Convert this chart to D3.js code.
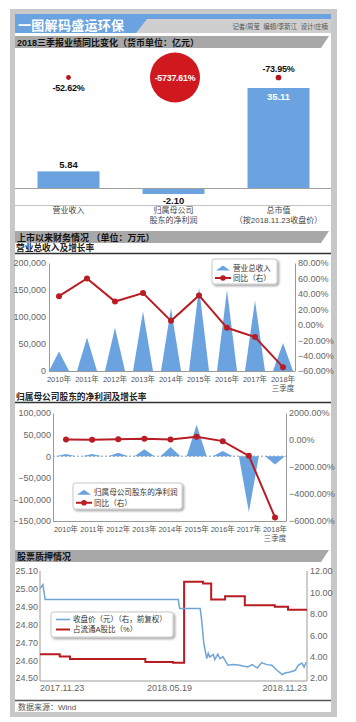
<!DOCTYPE html>
<html><head><meta charset="utf-8">
<script src="https://cdn.jsdelivr.net/npm/d3@7/dist/d3.min.js"></script>
<style>
body{margin:0;background:#fff;}
svg{display:block;}
text{font-family:"Liberation Sans",Arial,"Noto Sans CJK SC",sans-serif;}
</style></head><body>
<svg id="c" width="356" height="722"></svg>
<script>
// ---------- DATA ----------
const title = "一图解码盛运环保";
const credits = "记者/周莹  编辑/李新江  设计/庄楠";
const sec1Title = "2018三季报业绩同比变化（货币单位：亿元）";
const s1Line1 = ["营业收入", "归属母公司", "总市值"];
const s1Line2 = ["", "股东的净利润", "（按2018.11.23收盘价）"];
const s1Values = [5.84, -2.10, 35.11];
const s1Growth = [-52.62, -5737.61, -73.95];

const sec2Title = "上市以来财务情况 （单位：万元）";
const chart2Title = "营业总收入及增长率";
const chart3Title = "归属母公司股东的净利润及增长率";
const years = ["2010年","2011年","2012年","2013年","2014年","2015年","2016年","2017年","2018年"];
const lastYearNote = "三季度";
const revenue = [36000, 62000, 80000, 110000, 116000, 155000, 150000, 130000, 52000];
const revenueGrowth = [37, 60, 30, 41, 5, 38, -4, -16, -55];
const revLegend = ["营业总收入", "同比（右）"];
const rev2LeftTicks = [0, 50000, 100000, 150000, 200000];
const rev2RightTicks = [-60, -40, -20, 0, 20, 40, 60, 80];

const profit = [5000, 5000, 8000, 16000, 21500, 73000, 12000, -129000, -19000];
const profitGrowth = [35, 20, 60, 100, 34, 240, -84, -1175, -5737.61];
const profLegend = ["归属母公司股东的净利润", "同比（右）"];
const prof3LeftTicks = [-150000, -100000, -50000, 0, 50000, 100000];
const prof3RightTicks = [-6000, -4000, -2000, 0, 2000];

const sec4Title = "股票质押情况";
const priceDates = ["2017-11-23","2017-11-27","2017-11-30","2018-05-31","2018-06-02","2018-06-30","2018-07-02","2018-07-05","2018-07-09","2018-07-11","2018-07-13","2018-07-18","2018-07-20","2018-07-24","2018-07-27","2018-07-31","2018-08-07","2018-08-14","2018-08-23","2018-09-03","2018-09-09","2018-09-16","2018-09-22","2018-09-29","2018-10-06","2018-10-13","2018-10-20","2018-10-24","2018-10-31","2018-11-07","2018-11-11","2018-11-16","2018-11-19","2018-11-22"];
const priceValues = [10.36,10.73,9.33,9.33,8.49,8.49,7.39,5.21,3.81,4.30,3.95,4.20,3.72,4.22,3.80,4.00,3.19,3.25,3.19,3.03,3.25,2.93,3.44,3.25,3.19,2.72,2.32,2.47,2.56,2.72,3.19,3.40,3.03,3.50];
const pledgeDates = ["2017-11-23","2017-12-20","2018-01-03","2018-04-16","2018-05-24","2018-06-08","2018-07-04","2018-07-15","2018-08-03","2018-08-30","2018-10-10","2018-10-28","2018-11-23"];
const pledgeValues = [24.633,24.620,24.606,24.590,24.585,25.040,25.030,24.940,24.958,24.908,24.900,24.883,24.883];
const pledgeLeftTicks = [24.5, 24.6, 24.7, 24.8, 24.9, 25.0, 25.1];
const priceRightTicks = [2, 4, 6, 8, 10, 12];
const dateTickLabels = ["2017.11.23", "2018.05.19", "2018.11.23"];
const stockLegend = ["收盘价（元）（右，前复权）", "占流通A股比（%）"];
const source = "数据来源：Wind";

// ---------- DRAW ----------
const BLUE = "#6aa3e0", RED = "#b81d24", AX = "#9a9a9a", TK = "#666";
const svg = d3.select("#c");
const defs = svg.append("defs");
defs.append("filter").attr("id","sh").attr("x","-20%").attr("y","-30%").attr("width","150%").attr("height","180%")
  .append("feDropShadow").attr("dx",1.5).attr("dy",1.5).attr("stdDeviation",1.2).attr("flood-color","#000").attr("flood-opacity",0.4);

svg.append("rect").attr("x",10).attr("y",9).attr("width",327).attr("height",708).attr("fill","#c8c8c8");
svg.append("rect").attr("x",15).attr("y",14).attr("width",316).attr("height",698).attr("fill","#fff");

// header
svg.append("polygon").attr("points","15,14 331,14 331,33 15,33").attr("fill","#cfcfcf");
svg.append("polygon").attr("points","15,14 331,14 331,19 147,19 136,33 15,33").attr("fill",BLUE);
svg.append("text").attr("x",18).attr("y",30).attr("fill","#fff").attr("font-size",13).attr("font-weight","bold")
  .attr("letter-spacing",0.3).text(title);
svg.append("text").attr("x",328).attr("y",28.5).attr("text-anchor","end").attr("fill","#555").attr("font-size",6.4)
  .style("white-space","pre").text(credits);

function band(y, label){
  svg.append("polygon").attr("points",`15,${y} 329,${y} 321,${y+12} 15,${y+12}`).attr("fill","#a8a8a8");
  svg.append("text").attr("x",17).attr("y",y+10).attr("font-size",9).attr("font-weight","bold").attr("fill","#111")
    .style("white-space","pre").text(label);
}
function subTitle(y, label){
  svg.append("text").attr("x",16).attr("y",y).attr("font-size",8.7).attr("font-weight","bold").attr("fill","#222").text(label);
  svg.append("line").attr("x1",15).attr("x2",331).attr("y1",y+2.5).attr("y2",y+2.5).attr("stroke","#333").attr("stroke-width",1.3);
}

// ---- Section 1 ----
band(36, sec1Title);
const x1 = d3.scaleBand().domain(s1Line1).range([16,331]).paddingInner(0.41).paddingOuter(0.205);
const y1 = d3.scaleLinear().domain([0,35.11]).range([188,88]);
const r1 = d3.scaleSqrt().domain([0,5737.61]).range([0,25]);
const g1 = svg.append("g");
g1.selectAll("rect.b").data(s1Values).join("rect")
  .attr("x",(d,i)=>x1(s1Line1[i])).attr("width",x1.bandwidth())
  .attr("y",d=>y1(Math.max(0,d))).attr("height",d=>Math.abs(y1(d)-y1(0))).attr("fill",BLUE);
svg.append("line").attr("x1",15).attr("x2",331).attr("y1",188.5).attr("y2",188.5).attr("stroke","#a0a0a0");
svg.append("line").attr("x1",15).attr("x2",331).attr("y1",205.5).attr("y2",205.5).attr("stroke","#c4c4c4");
s1Values.forEach((v,i)=>{
  const cx = x1(s1Line1[i]) + x1.bandwidth()/2;
  let ty, fill="#111";
  if (v < 0) ty = y1(v) + 10;
  else if (y1(0)-y1(v) > 40) { ty = y1(v) + 12; fill = "#fff"; }
  else ty = y1(v) - 3;
  g1.append("text").attr("x",cx).attr("y",ty).attr("text-anchor","middle").attr("font-size",9.5)
    .attr("font-weight","bold").attr("fill",fill).text(v.toFixed(2));
  g1.append("text").attr("x",cx).attr("y",213).attr("text-anchor","middle").attr("font-size",8).attr("fill","#444").text(s1Line1[i]);
  if (s1Line2[i]) g1.append("text").attr("x",cx).attr("y",222.5).attr("text-anchor","middle").attr("font-size",8).attr("fill","#444").text(s1Line2[i]);
});
s1Growth.forEach((v,i)=>{
  const cx = x1(s1Line1[i]) + x1.bandwidth()/2 + (i===1?1.5:0);
  const cy = 77.5, r = r1(Math.abs(v));
  g1.append("circle").attr("cx",cx).attr("cy",cy).attr("r",r).attr("fill", r>10 ? "#d0191f" : "#b8141b");
  let ty, fill = "#111";
  if (r > 10) { ty = cy + 3.3; fill = "#fff"; }
  else if (i === 0) ty = cy + 13;
  else ty = cy - 5.5;
  g1.append("text").attr("x",cx).attr("y",ty).attr("text-anchor","middle").attr("font-size", r>10?8.8:9)
    .attr("font-weight","bold").attr("fill",fill).attr("letter-spacing",-0.2).text(v.toFixed(2)+"%");
});

// ---- Section 2 ----
band(231, sec2Title);
subTitle(251, chart2Title);

function comboChart(opt){
  const x = d3.scalePoint().domain(years).range(opt.xr);
  const yl = d3.scaleLinear().domain(opt.ld).range(opt.yr);
  const yr = d3.scaleLinear().domain(opt.rd).range(opt.yr);
  const g = svg.append("g");
  const hw = opt.hw;
  if (opt.zeroDash) g.append("line").attr("x1",opt.axL).attr("x2",opt.axR).attr("y1",yl(0)).attr("y2",yl(0))
      .attr("stroke","#999").attr("stroke-dasharray","2,2");
  g.selectAll("path.t").data(opt.bars).join("path")
    .attr("d",(d,i)=>{const cx=x(years[i]); return `M${cx-hw},${yl(0)}L${cx},${yl(d)}L${cx+hw},${yl(0)}Z`;})
    .attr("fill",BLUE);
  const axL = g.append("g").attr("transform",`translate(${opt.axL},0)`)
    .call(d3.axisLeft(yl).tickValues(opt.lt).tickSize(0).tickSizeOuter(0).tickPadding(opt.lp).tickFormat(d3.format(",")));
  const axR = g.append("g").attr("transform",`translate(${opt.axR},0)`)
    .call(d3.axisRight(yr).tickValues(opt.rt).tickSize(0).tickSizeOuter(0).tickPadding(3).tickFormat(d=>d3.format(".2f")(d)+"%"));
  [axL,axR].forEach(a=>{a.select(".domain").attr("stroke",AX);a.selectAll("text").attr("font-size",9).attr("fill",TK)
     .attr("font-family","Liberation Sans, Arial");});
  g.append("line").attr("x1",opt.axL).attr("x2",opt.axR).attr("y1",opt.yr[0]+0.5).attr("y2",opt.yr[0]+0.5).attr("stroke",AX);
  const line = d3.line().x((d,i)=>x(years[i])).y(d=>yr(d));
  g.append("path").attr("d",line(opt.line)).attr("fill","none").attr("stroke",RED).attr("stroke-width",2);
  g.selectAll("circle.m").data(opt.line).join("circle").attr("cx",(d,i)=>x(years[i])).attr("cy",d=>yr(d)).attr("r",3).attr("fill",RED);
  years.forEach(yv=>{
    g.append("text").attr("x",x(yv)).attr("y",opt.yr[0]+10.5).attr("text-anchor","middle").attr("font-size",7.5).attr("fill","#555").text(yv);
  });
  g.append("text").attr("x",x(years[years.length-1])).attr("y",opt.yr[0]+19.5).attr("text-anchor","middle").attr("font-size",7.5).attr("fill","#555").text(lastYearNote);
  const L = opt.leg;
  const lg = g.append("g").attr("transform",`translate(${L.x},${L.y})`);
  lg.append("rect").attr("width",L.w).attr("height",L.h).attr("rx",2.5).attr("fill","#fff").attr("stroke","#c8c8c8").attr("filter","url(#sh)");
  lg.append("path").attr("d",`M4,${L.h*0.36+2.5}L11,${L.h*0.36-2.5}L18,${L.h*0.36+2.5}Z`).attr("fill",BLUE);
  lg.append("text").attr("x",21).attr("y",L.h*0.36+3).attr("font-size",7.6).attr("fill","#333").text(L.labels[0]);
  lg.append("line").attr("x1",3).attr("x2",19).attr("y1",L.h*0.76).attr("y2",L.h*0.76).attr("stroke",RED).attr("stroke-width",2);
  lg.append("circle").attr("cx",11).attr("cy",L.h*0.76).attr("r",2.8).attr("fill",RED);
  lg.append("text").attr("x",21).attr("y",L.h*0.76+3).attr("font-size",7.6).attr("fill","#333").text(L.labels[1]);
}

comboChart({xr:[59,283], yr:[371,263], ld:[0,200000], rd:[-60,80], lt:rev2LeftTicks, rt:rev2RightTicks,
  axL:49, axR:295, lp:3, hw:10, bars:revenue, line:revenueGrowth, zeroDash:false,
  leg:{x:212,y:259,w:65,h:25,labels:revLegend}});

subTitle(400, chart3Title);
comboChart({xr:[66,275], yr:[521,413], ld:[-150000,100000], rd:[-6000,2000], lt:prof3LeftTicks, rt:prof3RightTicks,
  axL:53, axR:286, lp:2, hw:10, bars:profit, line:profitGrowth, zeroDash:true,
  leg:{x:73,y:483,w:109,h:26,labels:profLegend}});

// ---- Section 4 ----
band(550, sec4Title);
const parse = d3.timeParse("%Y-%m-%d");
const x4 = d3.scaleTime().domain([parse("2017-11-23"), parse("2018-11-23")]).range([40,307]);
const yl4 = d3.scaleLinear().domain([24.5,25.1]).range([678,571]);
const yr4 = d3.scaleLinear().domain([2,12]).range([678,571]);
const g4 = svg.append("g");
const a4l = g4.append("g").attr("transform","translate(40,0)")
  .call(d3.axisLeft(yl4).tickValues(pledgeLeftTicks).tickSize(0).tickSizeOuter(0).tickPadding(2).tickFormat(d3.format(".2f")));
const a4r = g4.append("g").attr("transform","translate(307,0)")
  .call(d3.axisRight(yr4).tickValues(priceRightTicks).tickSize(0).tickSizeOuter(0).tickPadding(3).tickFormat(d3.format(".2f")));
[a4l,a4r].forEach(a=>{a.select(".domain").attr("stroke",AX).attr("d","M0,571V681");
  a.selectAll("text").attr("font-size",9).attr("fill",TK);});
g4.append("line").attr("x1",40).attr("x2",307).attr("y1",681).attr("y2",681).attr("stroke",AX);
const pl = d3.line().x((d,i)=>x4(parse(pledgeDates[i]))).y(d=>yl4(d)).curve(d3.curveStepAfter);
g4.append("path").attr("d",pl(pledgeValues)).attr("fill","none").attr("stroke","#b81c22").attr("stroke-width",2);
const prl = d3.line().x((d,i)=>x4(parse(priceDates[i]))).y(d=>yr4(d));
g4.append("path").attr("d",prl(priceValues)).attr("fill","none").attr("stroke","#6fa4d8").attr("stroke-width",1.5);
const tparse = d3.timeParse("%Y.%m.%d");
dateTickLabels.forEach((t,i)=>{
  g4.append("text").attr("x",x4(tparse(t))).attr("y",690.5)
    .attr("text-anchor", i===0?"start":(i===dateTickLabels.length-1?"end":"middle"))
    .attr("font-size",9).attr("fill",TK).text(t);
});
const lg4 = g4.append("g").attr("transform","translate(51,612)");
lg4.append("rect").attr("width",122).attr("height",25).attr("rx",2.5).attr("fill","#fff").attr("stroke","#c8c8c8").attr("filter","url(#sh)");
lg4.append("line").attr("x1",5).attr("x2",19).attr("y1",7.5).attr("y2",7.5).attr("stroke","#6fa4d8").attr("stroke-width",1.6);
lg4.append("text").attr("x",22).attr("y",10.3).attr("font-size",7.5).attr("fill","#333").text(stockLegend[0]);
lg4.append("line").attr("x1",5).attr("x2",19).attr("y1",17.5).attr("y2",17.5).attr("stroke","#b81c22").attr("stroke-width",2);
lg4.append("text").attr("x",22).attr("y",20.3).attr("font-size",7.5).attr("fill","#333").text(stockLegend[1]);

svg.append("line").attr("x1",15).attr("x2",331).attr("y1",700.5).attr("y2",700.5).attr("stroke","#555").attr("stroke-width",1.6);
svg.append("text").attr("x",18).attr("y",710).attr("font-size",8).attr("fill","#555").text(source);
</script></body></html>
